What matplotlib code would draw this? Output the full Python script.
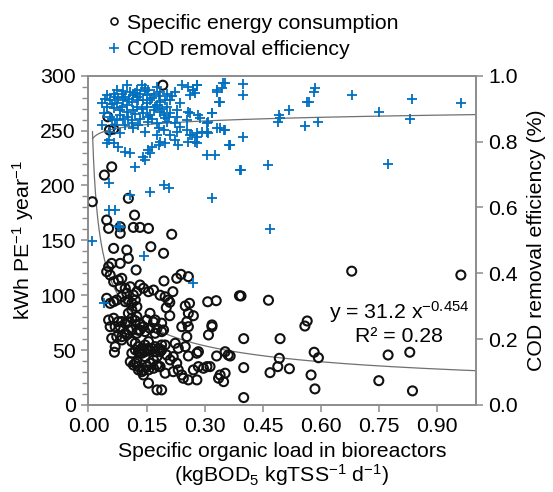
import matplotlib
matplotlib.use('Agg')
import matplotlib.pyplot as plt
import numpy as np
from matplotlib.ticker import MultipleLocator, FormatStrFormatter
from matplotlib.lines import Line2D

plt.rcParams['font.family'] = ['Liberation Sans', 'DejaVu Sans']
plt.rcParams['mathtext.fontset'] = 'custom'
plt.rcParams['mathtext.rm'] = 'Liberation Sans'
plt.rcParams['mathtext.it'] = 'Liberation Sans:italic'

# ---------------- data ----------------
# Specific energy consumption (kWh PE-1 year-1) vs specific organic load
energy_load = [
    0.680, 0.962, 0.394, 0.465, 0.565, 0.559, 0.401, 0.495, 0.366, 0.493, 0.583, 0.594,
    0.774, 0.830, 0.401, 0.489, 0.469, 0.519, 0.575, 0.585, 0.750, 0.837, 0.401,
    0.192, 0.050, 0.054, 0.065, 0.060, 0.041, 0.010, 0.103, 0.119, 0.047,
    0.052, 0.082, 0.116, 0.133, 0.155, 0.082, 0.215,
    0.065, 0.099, 0.103, 0.161, 0.194, 0.060, 0.082, 0.052, 0.123, 0.047, 0.056, 0.065,
    0.077, 0.086, 0.082, 0.095, 0.108, 0.099, 0.116, 0.125, 0.133, 0.142, 0.155, 0.168,
    0.239, 0.228, 0.258, 0.195, 0.218, 0.185, 0.198, 0.210, 0.201, 0.210, 0.308, 0.330,
    0.390, 0.250, 0.261, 0.258, 0.271, 0.254, 0.319, 0.206,
    0.047, 0.056, 0.065, 0.073, 0.086, 0.095, 0.103, 0.112, 0.121, 0.125, 0.112, 0.103,
    0.112, 0.125, 0.052, 0.065, 0.077, 0.069, 0.056, 0.082, 0.095, 0.060, 0.069, 0.086,
    0.095, 0.103, 0.067, 0.112, 0.125, 0.133, 0.142, 0.151, 0.159, 0.172, 0.177, 0.189,
    0.086, 0.103, 0.121, 0.133, 0.168, 0.189,
    0.099, 0.129, 0.146, 0.159, 0.172, 0.073, 0.086,
    0.112, 0.121, 0.129, 0.138, 0.146, 0.155, 0.121, 0.129, 0.138, 0.146, 0.155, 0.164,
    0.172, 0.181, 0.189, 0.198, 0.224, 0.232, 0.250, 0.202, 0.219, 0.228, 0.232, 0.241,
    0.245, 0.258, 0.280, 0.271, 0.284, 0.297, 0.314, 0.280, 0.284, 0.258, 0.331, 0.353,
    0.361, 0.340, 0.349, 0.336, 0.353, 0.198, 0.219, 0.211, 0.189, 0.319, 0.310, 0.241,
    0.258, 0.254, 0.194, 0.108, 0.121, 0.129, 0.138, 0.142, 0.155, 0.168, 0.177, 0.185,
    0.306, 0.155, 0.177,
    0.116, 0.125, 0.129, 0.142, 0.151, 0.159, 0.168, 0.177, 0.185, 0.181, 0.138, 0.155,
    0.172, 0.189, 0.133, 0.146, 0.112,
]
energy_kwh = [
    121.9, 118.4, 99.3, 95.4, 76.5, 71.9, 60.4, 60.4, 44.6, 42.5, 48.0, 43.0,
    45.5, 48.0, 34.0, 34.9, 29.4, 33.0, 27.3, 14.6, 22.1, 12.8, 6.7,
    291.4, 262.6, 250.5, 251.4, 217.0, 209.5, 185.2, 188.3, 173.0, 168.5,
    160.9, 162.4, 161.8, 161.8, 160.9, 156.4, 155.5,
    142.7, 141.2, 133.6, 144.2, 138.2, 129.0, 129.0, 126.0, 123.0, 121.4, 118.4, 112.3,
    113.8, 115.4, 107.7, 106.3, 107.7, 101.7, 100.2, 103.2, 109.3, 106.3, 103.2, 104.7,
    119.0, 115.4, 116.9, 113.0, 103.2, 100.0, 98.6, 93.5, 88.6, 81.3, 94.0, 95.0,
    99.5, 90.2, 92.6, 83.5, 81.3, 75.9, 72.9, 95.6,
    97.2, 92.6, 94.1, 95.6, 98.6, 94.1, 95.6, 92.6, 95.6, 89.5, 86.5, 83.5,
    79.0, 80.4, 77.4, 79.0, 75.9, 71.3, 71.3, 71.3, 74.4, 60.7, 53.1, 62.2,
    65.3, 68.3, 48.0, 68.3, 65.3, 68.3, 71.3, 77.4, 83.5, 77.4, 69.8, 66.8,
    76.0, 75.5, 76.8, 74.0, 75.5, 74.5,
    63.8, 68.0, 66.8, 69.8, 65.3, 62.2, 59.2,
    57.7, 56.2, 53.1, 51.6, 54.6, 57.7, 50.1, 48.5, 47.1, 48.5, 50.1, 51.6,
    48.5, 51.6, 50.1, 54.6, 56.2, 51.6, 53.1, 45.5, 44.0, 38.0, 31.9, 27.3,
    24.3, 22.8, 22.8, 31.9, 34.9, 33.4, 34.9, 47.1, 48.5, 44.6, 44.6, 48.5,
    45.5, 27.3, 21.2, 24.3, 28.9, 28.9, 30.3, 41.0, 13.7, 71.3, 63.8, 71.3,
    71.3, 62.2, 68.3, 39.4, 38.0, 34.9, 30.3, 27.3, 31.9, 33.4, 36.4, 34.9,
    34.9, 19.8, 13.7,
    36.4, 39.4, 31.9, 31.9, 34.9, 38.0, 41.0, 44.0, 48.5, 34.9, 50.1, 51.6,
    53.1, 54.6, 47.1, 44.0, 47.1,
]

# COD removal efficiency (fraction) vs specific organic load
cod_load = [
    0.099, 0.138, 0.176, 0.155, 0.125, 0.108, 0.086, 0.065, 0.047, 0.034, 0.056, 0.077,
    0.095, 0.116, 0.133, 0.151, 0.168, 0.185, 0.202, 0.224, 0.241, 0.258, 0.271, 0.280,
    0.331, 0.353, 0.340, 0.237, 0.258, 0.284, 0.305, 0.318, 0.254, 0.211, 0.185, 0.168,
    0.142, 0.116, 0.099, 0.082, 0.065, 0.047, 0.039, 0.056, 0.073, 0.090, 0.112, 0.133,
    0.155, 0.176, 0.202, 0.224, 0.237, 0.254, 0.267, 0.280, 0.310, 0.331, 0.349, 0.366,
    0.392, 0.327, 0.305, 0.280, 0.258, 0.224, 0.198, 0.181, 0.163, 0.155, 0.146, 0.120,
    0.108, 0.095, 0.077, 0.065, 0.047, 0.052, 0.108, 0.159, 0.194, 0.207, 0.318, 0.052,
    0.069, 0.077, 0.082,
    0.073, 0.146, 0.125, 0.159, 0.185, 0.211, 0.099, 0.125, 0.151, 0.176, 0.202, 0.228,
    0.112, 0.073, 0.090, 0.142, 0.194, 0.228, 0.159, 0.034, 0.056, 0.082, 0.116, 0.146,
    0.176, 0.194, 0.211, 0.228, 0.052, 0.232, 0.185, 0.159, 0.142,
    0.400, 0.400, 0.585, 0.583, 0.570, 0.565, 0.680, 0.519, 0.493, 0.489, 0.495, 0.559,
    0.594, 0.750, 0.836, 0.830, 0.962, 0.400, 0.394, 0.465, 0.774, 0.469, 0.366,
    0.280, 0.271, 0.275, 0.262, 0.348, 0.344, 0.331, 0.336, 0.319, 0.288, 0.262, 0.310,
    0.340, 0.353, 0.306, 0.293, 0.280, 0.262, 0.275, 0.364,
    0.009, 0.144, 0.271, 0.039,
    0.043, 0.060, 0.069, 0.090, 0.104, 0.120, 0.129, 0.146, 0.163, 0.181, 0.198, 0.216,
    0.060, 0.082, 0.103, 0.121, 0.138, 0.155, 0.172, 0.189, 0.207, 0.095, 0.112, 0.129,
    0.163, 0.181, 0.198, 0.069, 0.086, 0.150,
]
cod_eff = [
    0.972, 0.972, 0.967, 0.957, 0.957, 0.951, 0.946, 0.946, 0.941, 0.916, 0.926, 0.931,
    0.936, 0.941, 0.946, 0.941, 0.946, 0.951, 0.946, 0.951, 0.972, 0.967, 0.957, 0.972,
    0.957, 0.977, 0.921, 0.916, 0.891, 0.881, 0.855, 0.886, 0.865, 0.886, 0.891, 0.896,
    0.886, 0.896, 0.911, 0.896, 0.901, 0.906, 0.886, 0.876, 0.865, 0.870, 0.865, 0.870,
    0.860, 0.855, 0.860, 0.855, 0.845, 0.835, 0.820, 0.825, 0.825, 0.840, 0.835, 0.790,
    0.714, 0.759, 0.759, 0.795, 0.800, 0.805, 0.795, 0.790, 0.784, 0.774, 0.744, 0.724,
    0.764, 0.769, 0.784, 0.795, 0.795, 0.673, 0.638, 0.648, 0.668, 0.658, 0.628, 0.592,
    0.592, 0.545, 0.541,
    0.957, 0.962, 0.936, 0.926, 0.921, 0.926, 0.891, 0.906, 0.906, 0.911, 0.906, 0.896,
    0.921, 0.916, 0.926, 0.926, 0.881, 0.876, 0.881, 0.850, 0.830, 0.825, 0.840, 0.830,
    0.820, 0.835, 0.820, 0.830, 0.805, 0.790, 0.800, 0.764, 0.754,
    0.975, 0.943, 0.962, 0.950, 0.921, 0.921, 0.941, 0.896, 0.881, 0.860, 0.871, 0.848,
    0.859, 0.891, 0.929, 0.868, 0.918, 0.815, 0.714, 0.729, 0.732, 0.534, 0.790,
    0.972, 0.957, 0.947, 0.941, 0.979, 0.962, 0.952, 0.921, 0.886, 0.871, 0.886, 0.860,
    0.840, 0.835, 0.830, 0.830, 0.815, 0.820, 0.800, 0.790,
    0.499, 0.453, 0.370, 0.309,
    0.930, 0.915, 0.935, 0.955, 0.930, 0.948, 0.925, 0.955, 0.932, 0.938, 0.925, 0.940,
    0.870, 0.880, 0.875, 0.885, 0.900, 0.875, 0.905, 0.900, 0.875, 0.850, 0.855, 0.850,
    0.870, 0.840, 0.872, 0.850, 0.905, 0.918,
]

# trendline coefficients (as printed / fitted in the original chart)
pow_a, pow_b = 31.2, -0.454
log_a, log_b = 0.882, 0.016
trend_xmin, trend_xmax = 0.0103, 1.0

x_ticks = [0.00, 0.15, 0.30, 0.45, 0.60, 0.75, 0.90]

# ---------------- figure ----------------
fig = plt.figure(figsize=(5.53, 4.92), dpi=100)
ax = fig.add_axes([0.160, 0.177, 0.700, 0.669])
ax2 = ax.twinx()

fs = 15.3
grey = '#8c8c8c'
blue = '#0070C0'

ax.scatter(energy_load, energy_kwh, s=42, facecolors='none', edgecolors='#111111',
           linewidths=1.5, zorder=3)
xt = np.linspace(trend_xmin, trend_xmax, 400)
ax.plot(xt, pow_a * xt ** pow_b, color='#707070', lw=0.9, zorder=2)

ax2.scatter(cod_load, cod_eff, s=55, marker='+', color=blue, linewidths=1.3, zorder=3)
ax2.plot(xt, log_a + log_b * np.log(xt), color='#707070', lw=0.9, zorder=2)

ax.set_xlim(0, 1.0)
ax.set_ylim(0, 300)
ax2.set_ylim(0, 1.0)
ax.set_xticks(x_ticks)
ax.xaxis.set_major_formatter(FormatStrFormatter('%.2f'))
ax.yaxis.set_major_locator(MultipleLocator(50))
ax.yaxis.set_minor_locator(MultipleLocator(10))
ax2.yaxis.set_major_locator(MultipleLocator(0.2))
ax2.yaxis.set_major_formatter(FormatStrFormatter('%.1f'))

for a in (ax, ax2):
    for sp in a.spines.values():
        sp.set_color(grey)
        sp.set_linewidth(1.2)
ax.tick_params(axis='both', which='major', direction='out', length=5, width=1.1,
               color=grey, labelsize=fs, pad=4)
ax.tick_params(axis='y', which='minor', direction='out', length=4, width=1.0, color=grey)
ax2.tick_params(axis='y', which='major', direction='out', length=5, width=1.1,
                color=grey, labelsize=fs, pad=4)

ax.set_ylabel('kWh PE$^{-1}$ year$^{-1}$', fontsize=fs, labelpad=3)
ax2.set_ylabel('COD removal efficiency (%)', fontsize=fs, labelpad=7)
ax.set_xlabel('Specific organic load in bioreactors\n(kgBOD$_5$ kgTSS$^{-1}$ d$^{-1}$)',
              fontsize=fs, labelpad=4, linespacing=1.05)

ax.text(0.802, 84.7, 'y = 31.2 x$^{-0.454}$', fontsize=fs, ha='center', va='center')
ax.text(0.802, 62.8, 'R² = 0.28', fontsize=fs, ha='center', va='center')

handles = [
    Line2D([], [], marker='o', ls='none', markerfacecolor='none', markeredgecolor='#111111',
           markersize=5, markeredgewidth=1.2, label='Specific energy consumption'),
    Line2D([], [], marker='+', ls='none', color=blue, markersize=7, markeredgewidth=1.2,
           label='COD removal efficiency'),
]
fig.legend(handles=handles, loc='upper left', bbox_to_anchor=(0.17, 1.0), frameon=False,
           fontsize=fs, handlelength=0.6, handletextpad=0.3, labelspacing=0.35,
           borderaxespad=0.25)

fig.savefig('out.png', dpi=100)
